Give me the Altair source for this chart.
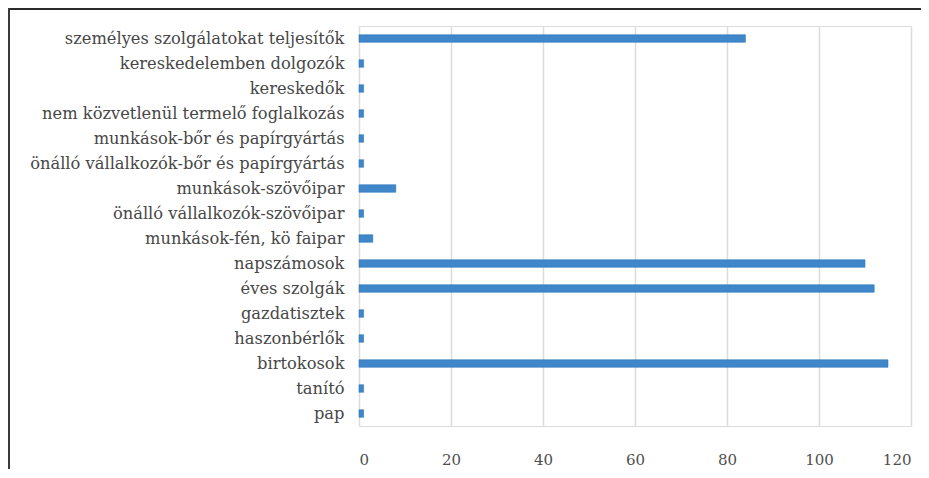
import altair as alt
import pandas as pd

categories = [
    "személyes szolgálatokat teljesítők ",
    "kereskedelemben dolgozók",
    "kereskedők",
    "nem közvetlenül termelő foglalkozás",
    "munkások-bőr és papírgyártás",
    "önálló vállalkozók-bőr és papírgyártás",
    "munkások-szövőipar",
    "önálló vállalkozók-szövőipar",
    "munkások-fén, kö faipar",
    "napszámosok",
    "éves szolgák",
    "gazdatisztek",
    "haszonbérlők",
    "birtokosok",
    "tanító",
    "pap",
]
values = [84, 1, 1, 1, 1, 1, 8, 1, 3, 110, 112, 1, 1, 115, 1, 1]
x_ticks = [0, 20, 40, 60, 80, 100, 120]

df = pd.DataFrame({"cat": categories, "val": values})

FONT = "DejaVu Serif"

bars = alt.Chart(df).mark_bar(color="#3f87c9", stroke="#2f78bd", strokeWidth=0.6).encode(
    y=alt.Y("cat:N", sort=categories, title=None,
            scale=alt.Scale(paddingInner=0.7, paddingOuter=0.35),
            axis=alt.Axis(labelFont=FONT, labelFontSize=16.3, labelColor="#474747",
                          labelPadding=15, ticks=False, domain=False, grid=False,
                          labelLimit=400)),
    x=alt.X("val:Q", title=None,
            scale=alt.Scale(domain=[0, 120], nice=False),
            axis=alt.Axis(values=x_ticks, labelFont=FONT, labelFontSize=15,
                          labelColor="#4f4f4f", labelPadding=26, ticks=False,
                          domain=False, grid=True, gridColor="#dcdcdc",
                          gridWidth=1.5)),
)

frame = alt.Data(values=[{}])
top_line = alt.Chart(frame).mark_rule(color="#2b2b2b", strokeWidth=2).encode(
    x=alt.value(-351), x2=alt.value(575), y=alt.value(-17)
)
left_line = alt.Chart(frame).mark_rule(color="#3a3a3a", strokeWidth=2).encode(
    x=alt.value(-350), y=alt.value(-18), y2=alt.value(460)
)

chart = alt.layer(bars, top_line, left_line).properties(
    width=552, height=400,
    autosize=alt.AutoSizeParams(type="none"),
    padding={"left": 351, "top": 18, "right": 10, "bottom": 43},
).configure_view(stroke=None).configure(background="white")

chart.save("out.html", embed_options={"renderer": "svg", "actions": False})
